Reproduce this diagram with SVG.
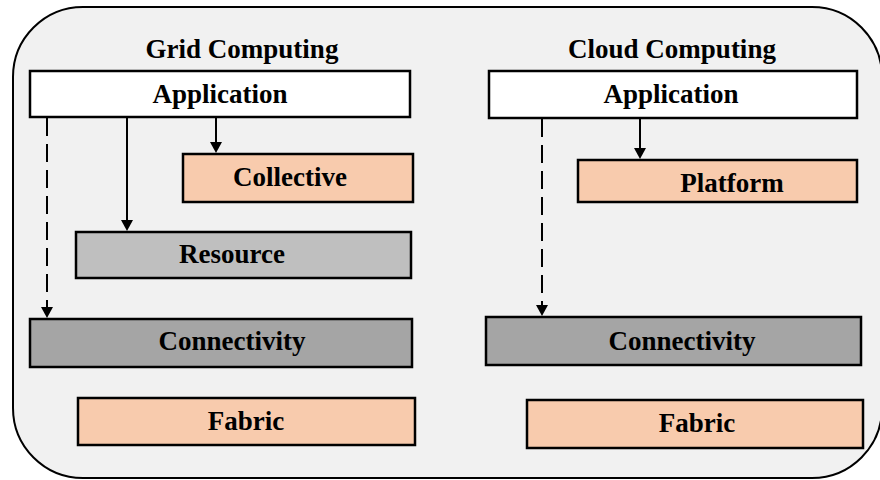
<svg xmlns="http://www.w3.org/2000/svg" width="880" height="480" viewBox="0 0 880 480">
  <defs>
    <style>
      .frame { fill: #f1f1f1; stroke: #000; stroke-width: 2; }
      .box { stroke: #000; stroke-width: 2.5; }
      .white { fill: #ffffff; }
      .peach { fill: #f8cbad; }
      .light { fill: #bfbfbf; }
      .dark { fill: #a5a5a5; }
      .label { font-family: "Liberation Serif", "Times New Roman", serif; font-weight: bold; font-size: 27px; fill: #000; text-anchor: middle; }
      .link { stroke: #000; stroke-width: 2; fill: none; }
      .dash { stroke-dasharray: 18 8; }
      .tip { stroke: none; fill: #000; }
    </style>
  </defs>

  <!-- outer frame -->
  <rect class="frame" x="13" y="7" width="869" height="471" rx="70" ry="70"/>

  <!-- column titles -->
  <text class="label" x="242" y="58">Grid Computing</text>
  <text class="label" x="672" y="58">Cloud Computing</text>

  <!-- Grid computing stack -->
  <g id="grid-application">
    <rect class="box white" x="30" y="71" width="380" height="46"/>
    <text class="label" x="220" y="103">Application</text>
  </g>
  <g id="grid-collective">
    <rect class="box peach" x="183" y="154" width="230" height="48"/>
    <text class="label" x="290" y="186">Collective</text>
  </g>
  <g id="grid-resource">
    <rect class="box light" x="76" y="232" width="335" height="46"/>
    <text class="label" x="232" y="263">Resource</text>
  </g>
  <g id="grid-connectivity">
    <rect class="box dark" x="30" y="319" width="382" height="48"/>
    <text class="label" x="232" y="350">Connectivity</text>
  </g>
  <g id="grid-fabric">
    <rect class="box peach" x="78" y="398" width="337" height="47"/>
    <text class="label" x="246" y="430">Fabric</text>
  </g>

  <!-- Cloud computing stack -->
  <g id="cloud-application">
    <rect class="box white" x="489" y="71" width="368" height="47"/>
    <text class="label" x="671" y="103">Application</text>
  </g>
  <g id="cloud-platform">
    <rect class="box peach" x="578" y="160" width="279" height="42"/>
    <text class="label" x="732" y="192">Platform</text>
  </g>
  <g id="cloud-connectivity">
    <rect class="box dark" x="486" y="317" width="375" height="48"/>
    <text class="label" x="682" y="350">Connectivity</text>
  </g>
  <g id="cloud-fabric">
    <rect class="box peach" x="527" y="400" width="336" height="48"/>
    <text class="label" x="697" y="432">Fabric</text>
  </g>

  <!-- connectors -->
  <g id="connectors">
    <line class="link dash" x1="47" y1="118" x2="47" y2="307"/>
    <path class="tip" d="M41,307 L53,307 L47,318 Z"/>
    <line class="link" x1="127" y1="118" x2="127" y2="220"/>
    <path class="tip" d="M121,220 L133,220 L127,231 Z"/>
    <line class="link" x1="216" y1="118" x2="216" y2="142"/>
    <path class="tip" d="M210,142 L222,142 L216,153 Z"/>
    <line class="link dash" x1="542" y1="119" x2="542" y2="305"/>
    <path class="tip" d="M536,305 L548,305 L542,316 Z"/>
    <line class="link" x1="640" y1="119" x2="640" y2="148"/>
    <path class="tip" d="M634,148 L646,148 L640,159 Z"/>
  </g>
</svg>
